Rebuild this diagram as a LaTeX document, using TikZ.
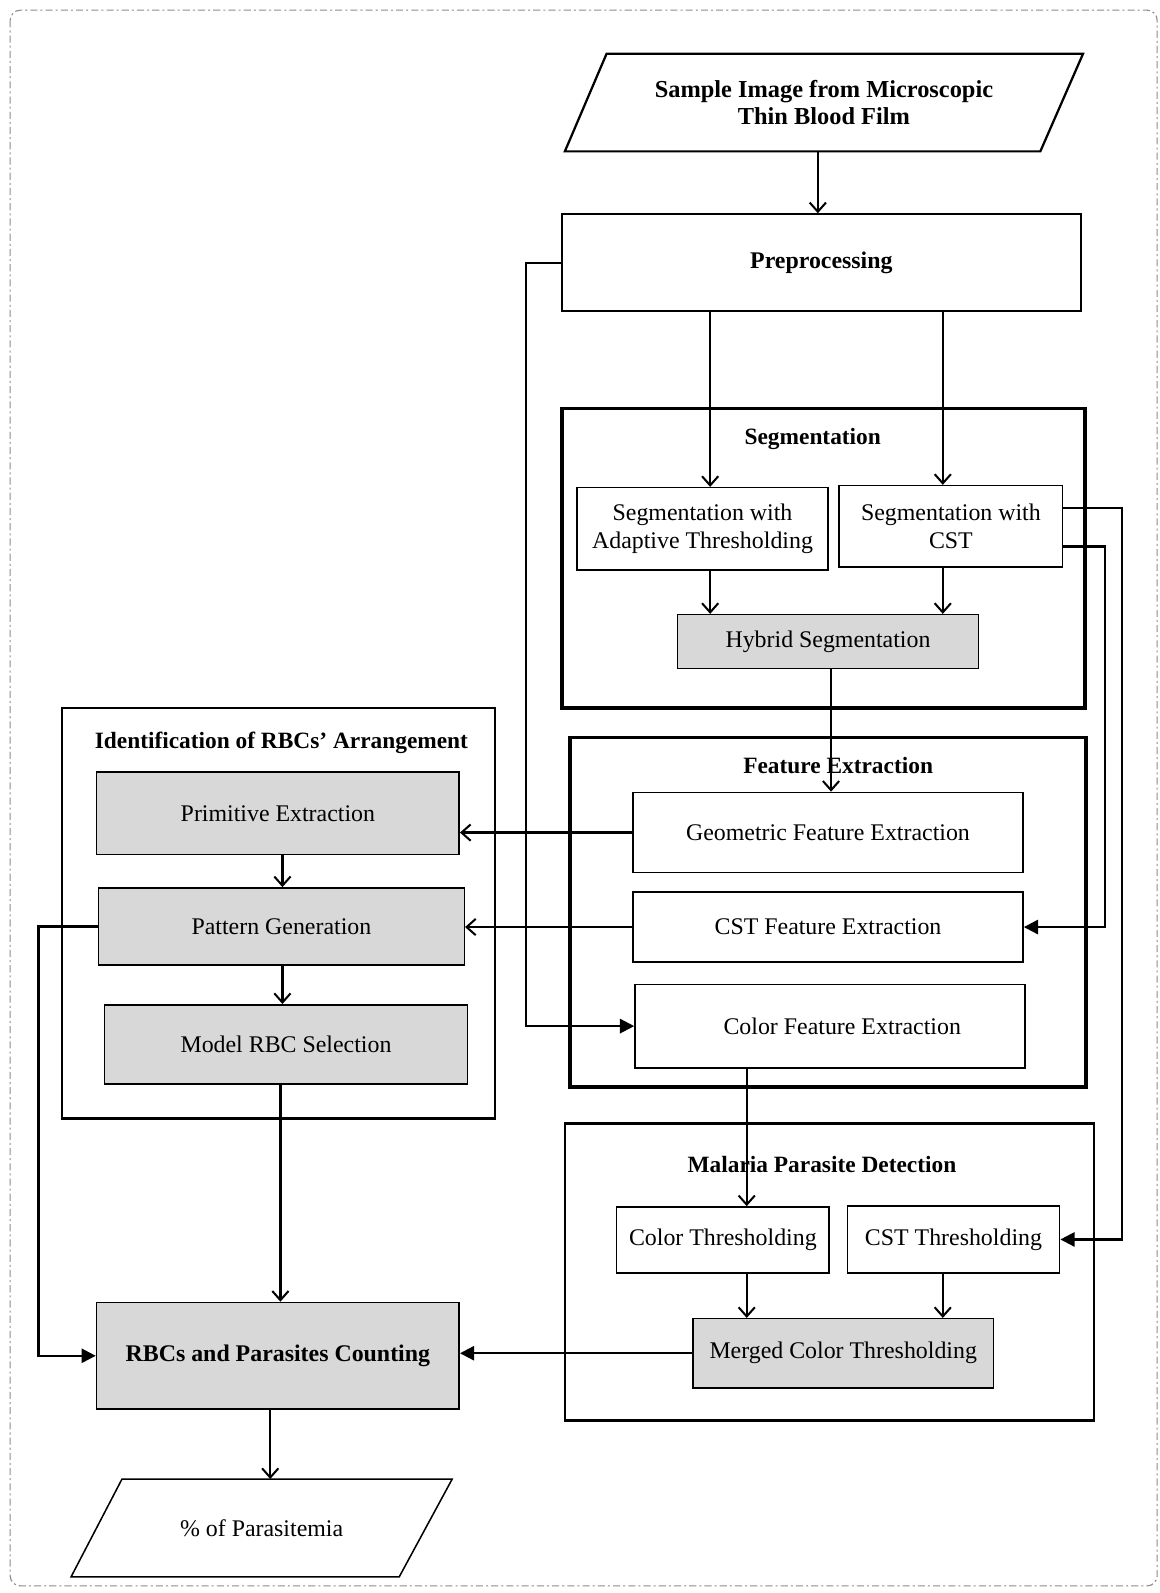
\documentclass[tikz,border=0pt]{standalone}
\usepackage{fontspec}
\setmainfont{Liberation Serif}
\usetikzlibrary{arrows.meta,calc}
\definecolor{boxgray}{RGB}{216,216,216}
\definecolor{framegray}{RGB}{140,140,140}
\tikzset{
  wbox/.style={draw, line width=1.5pt, fill=white, inner sep=0pt, align=center, font=\fontsize{23.5}{27}\selectfont},
  gbox/.style={wbox, fill=boxgray},
  bigbox/.style={draw, line width=2.2pt, inner sep=0pt, align=center, font=\bfseries\fontsize{23.5}{27}\selectfont},
  container/.style={draw, line width=2.4pt, inner sep=0pt},
  thickcontainer/.style={draw, line width=3.4pt, inner sep=0pt},
  title/.style={inner sep=0pt, font=\bfseries\fontsize{23}{26}\selectfont},
  arrO/.style={line width=2.2pt, -{Straight Barb[length=9pt,width=16pt,line width=2pt]}},
  arrF/.style={line width=2.2pt, -{Triangle[length=14pt,width=14pt]}},
}
\begin{document}
\begin{tikzpicture}[x=1pt,y=-1pt]
\useasboundingbox (0,0) rectangle (1141,1568);
% outer dashed frame
\draw[framegray, line width=1.1pt, dash pattern=on 7pt off 3pt on 2pt off 3pt, rounded corners=10pt] (10,10) rectangle (1139,1561);

% containers
\node[thickcontainer, minimum width=515pt, minimum height=295pt] (segc) at (810.5,549.5) {};
\node[thickcontainer, minimum width=508pt, minimum height=344pt] (featc) at (815,898) {};
\node[container, minimum width=426pt, minimum height=404pt] (identc) at (274,899) {};
\node[container, minimum width=521pt, minimum height=292pt] (malc) at (816.5,1252) {};

% input parallelogram
\draw[line width=2.2pt, fill=white] (597,53) -- (1066,53) -- (1024,149) -- (556,149) -- cycle;
\node[inner sep=0pt, minimum width=420pt, minimum height=96pt, align=center, font=\bfseries\fontsize{24}{27}\selectfont] (sample) at (811,101) {Sample Image from Microscopic\\Thin Blood Film};

\node[bigbox, minimum width=511pt, minimum height=95pt] (prep) at (808.5,258.5) {Preprocessing};

% segmentation
\node[title] (segt) at (800,432) {Segmentation};
\node[wbox, minimum width=247pt, minimum height=81pt] (adapt) at (691.5,520.5) {Segmentation with\\Adaptive Thresholding};
\node[wbox, minimum width=220pt, minimum height=80pt] (cstseg) at (936,518) {Segmentation with\\CST};
\node[gbox, minimum width=296pt, minimum height=53pt] (hybrid) at (815,631.5) {Hybrid Segmentation};

% feature extraction
\node[title] (featt) at (825,754) {Feature Extraction};
\node[wbox, minimum width=384pt, minimum height=79pt] (geo) at (815,819.5) {Geometric Feature Extraction};
\node[wbox, minimum width=384pt, minimum height=69pt] (cstf) at (815,912.5) {CST Feature Extraction};
\node[wbox, minimum width=384pt, minimum height=82pt] (colf) at (817,1010) {\hspace*{24pt}Color Feature Extraction};

% identification
\node[title] (identt) at (277,731) {Identification of RBCs' Arrangement};
\node[gbox, minimum width=357pt, minimum height=81pt] (prim) at (273.5,800.5) {Primitive Extraction};
\node[gbox, minimum width=360pt, minimum height=76pt] (patt) at (277,912) {Pattern Generation};
\node[gbox, minimum width=357pt, minimum height=78pt] (model) at (281.5,1028) {Model RBC Selection};

% malaria parasite detection
\node[title] (malt) at (809,1146) {Malaria Parasite Detection};
\node[wbox, minimum width=209pt, minimum height=65pt] (colt) at (711.5,1220.5) {Color Thresholding};
\node[wbox, minimum width=209pt, minimum height=66pt] (cstt) at (938.5,1220) {CST Thresholding};
\node[gbox, minimum width=296pt, minimum height=68pt] (merged) at (830,1332) {Merged Color Thresholding};

% counting and output
\node[gbox, minimum width=357pt, minimum height=105pt, font=\bfseries\fontsize{23.5}{27}\selectfont] (count) at (273.5,1334.5) {RBCs and Parasites Counting};
\draw[line width=1.5pt, fill=white] (120,1456) -- (445,1456) -- (393,1552) -- (70,1552) -- cycle;
\node[inner sep=0pt, minimum width=300pt, minimum height=96pt, font=\fontsize{23.5}{27}\selectfont] (para) at (257.5,1504) {\% of Parasitemia};

% helper coordinates for line positions
\coordinate (xS) at (805,0);
\coordinate (xA) at (699,0);
\coordinate (xB) at (928,0);
\coordinate (xH) at (818,0);
\coordinate (xC) at (735,0);
\coordinate (xI) at (278,0);
\coordinate (xM) at (276,0);
\coordinate (xQ) at (266,0);
\coordinate (xL) at (518,0);
\coordinate (xP) at (38,0);
\coordinate (xR1) at (1104,0);
\coordinate (xR2) at (1088,0);
\coordinate (yU) at (0,500);
\coordinate (yD) at (0,538);

% connectors
\draw[arrO] (sample.south -| xS) -- (prep.north -| xS);
\draw[arrO] (prep.south -| xA) -- (adapt.north -| xA);
\draw[arrO] (prep.south -| xB) -- (cstseg.north -| xB);
\draw[arrO] (adapt.south -| xA) -- (hybrid.north -| xA);
\draw[arrO] (cstseg.south -| xB) -- (hybrid.north -| xB);
\draw[arrO] (hybrid.south -| xH) -- (geo.north -| xH);

\draw[arrF] (cstseg.east |- yU) -- (xR1 |- yU) -- (xR1 |- cstt.east) -- (cstt.east);
\draw[arrF] (cstseg.east |- yD) -- (xR2 |- yD) -- (xR2 |- cstf.east) -- (cstf.east);
\draw[arrF] (prep.west) -- (xL |- prep.west) -- (xL |- colf.west) -- (colf.west);

\draw[arrO] (geo.west) -- (geo.west -| prim.east);
\draw[arrO] (cstf.west) -- (cstf.west -| patt.east);

\draw[arrO] (colf.south -| xC) -- (colt.north -| xC);
\draw[arrO] (colt.south -| xC) -- (merged.north -| xC);
\draw[arrO] (cstt.south -| xB) -- (merged.north -| xB);
\draw[arrF] (merged.west) -- (merged.west -| count.east);

\draw[arrO] (prim.south -| xI) -- (patt.north -| xI);
\draw[arrO] (patt.south -| xI) -- (model.north -| xI);
\draw[arrO] (model.south -| xM) -- (count.north -| xM);
\draw[arrF] (patt.west) -- (xP |- patt.west) -- (xP |- count.west) -- (count.west);
\draw[arrO] (count.south -| xQ) -- (para.north -| xQ);
\end{tikzpicture}
\end{document}
